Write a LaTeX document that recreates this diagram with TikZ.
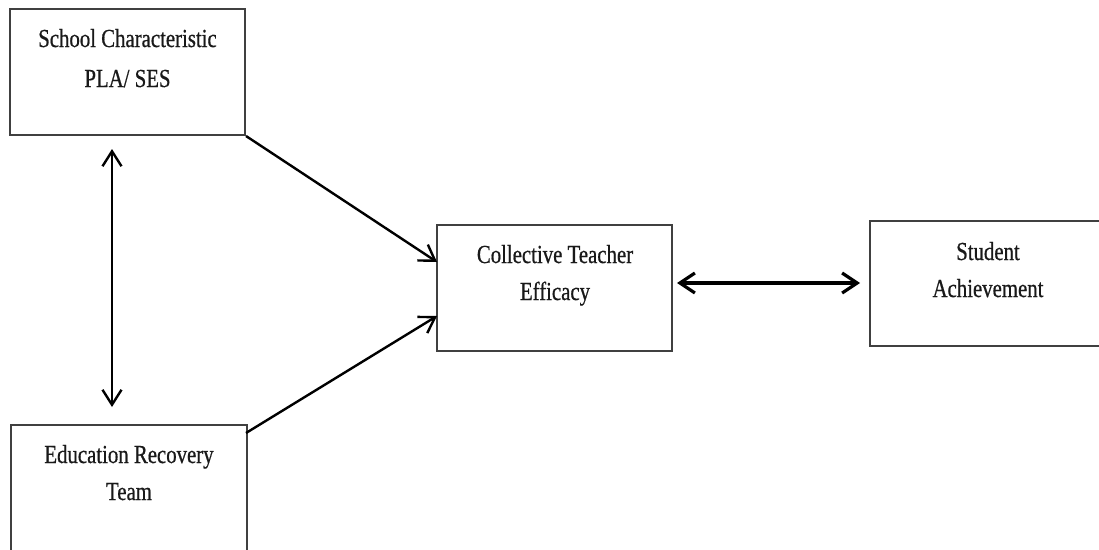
\documentclass[tikz,border=0pt]{standalone}
\usepackage{fontspec}
\setmainfont{Liberation Serif}
\newfontfamily\boxfont[FakeStretch=0.8,FakeBold=0.6]{Liberation Serif}
\usetikzlibrary{arrows.meta}
\begin{document}
\begin{tikzpicture}[x=1pt,y=-1pt,
  box/.style={draw=black!75, line width=2pt, rectangle, inner sep=0pt},
  txt/.style={font=\boxfont\fontsize{26}{30}\selectfont, anchor=base, inner sep=0pt, text=black!90},
  link/.style={line width=2.4pt, -{Straight Barb[length=15pt,width=19pt,line width=2.4pt]}},
  dlink/.style={line width=2.4pt, {Straight Barb[length=15pt,width=19pt,line width=2.4pt]}-{Straight Barb[length=15pt,width=19pt,line width=2.4pt]}},
  thick dlink/.style={line width=3.4pt, {Straight Barb[length=15pt,width=20pt,line width=3.2pt]}-{Straight Barb[length=15pt,width=20pt,line width=3.2pt]}}
]
\useasboundingbox[fill=white] (0,0) rectangle (1099,549);
\clip (0,0) rectangle (1099,549);
% boxes
\node[box, minimum width=235pt, minimum height=126pt] (sc) at (127.5,72) {};
\node[box, minimum width=236pt, minimum height=140pt] (er) at (129,495) {};
\node[box, minimum width=235pt, minimum height=126pt] (cte) at (554.5,288) {};
\node[box, minimum width=240pt, minimum height=125pt] (sa) at (990,283.5) {};
% texts
\node[txt] (sc1) at (127.5,47) {School Characteristic};
\node[txt] (sc2) at (127.5,87) {PLA/ SES};
\node[txt] (er1) at (129,463) {Education Recovery};
\node[txt] (er2) at (129,500) {Team};
\node[txt] (cte1) at (555,263) {Collective Teacher};
\node[txt] (cte2) at (555,300) {Efficacy};
\node[txt] (sa1) at (988,260) {Student};
\node[txt] (sa2) at (988,297) {Achievement};
% connectors
\coordinate (a1e) at (437,262);
\coordinate (a2s) at (246,433);
\coordinate (a2e) at (437,316);
\draw[link] (sc.south east) -- (a1e);
\draw[link] (a2s) -- (a2e);
\coordinate (vt) at (112,149);
\coordinate (vb) at (112,407);
\draw[dlink] (vt) -- (vb);
\coordinate (ht) at (677,283);
\coordinate (hb) at (860,283);
\draw[thick dlink] (ht) -- (hb);
\end{tikzpicture}
\end{document}
